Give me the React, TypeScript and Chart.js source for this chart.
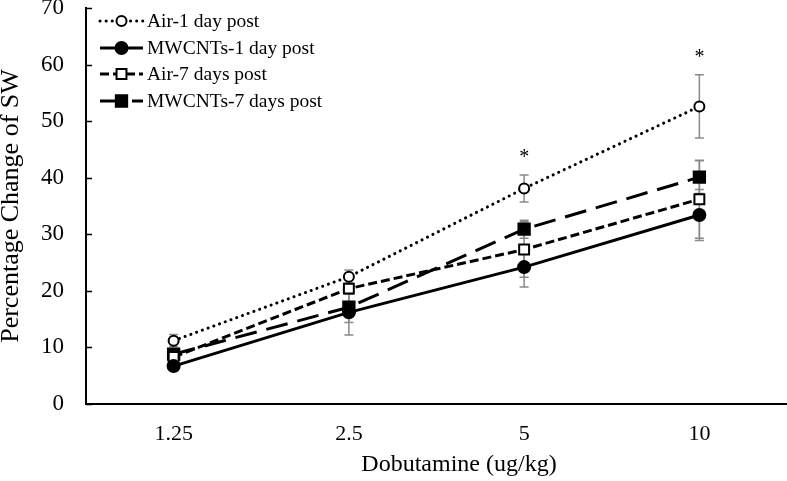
import React, { useEffect, useRef } from "react";
import { Chart, registerables } from "chart.js";

Chart.register(...registerables);

const categories = ["1.25", "2.5", "5", "10"];
const air1Day = [11.2, 22.5, 38.1, 52.6];
const air1DayErr = [1.1, 1.2, 2.4, 5.6];
const mw1Day = [6.7, 16.2, 24.2, 33.4];
const mw1DayErr = [0.8, 4.0, 3.5, 4.5];
const air7Day = [8.3, 20.4, 27.3, 36.2];
const air7DayErr = [0.8, 1.0, 4.9, 6.9];
const mw7Day = [8.8, 17.1, 30.9, 40.1];
const mw7DayErr = [0.8, 2.7, 1.6, 2.9];
const significance = ["", "", "*", "*"];
const yTicks = [0, 10, 20, 30, 40, 50, 60, 70];
const xTitle = "Dobutamine (ug/kg)";
const yTitle = "Percentage Change of SW";

const FONT = '"Liberation Serif", "Times New Roman", serif';

const seriesStyle = [
  { label: "Air-1 day post", data: air1Day, err: air1DayErr, dash: [0.1, 6], cap: "round", point: "circle", r: 5, fill: "#fff" },
  { label: "MWCNTs-1 day post", data: mw1Day, err: mw1DayErr, dash: [], cap: "butt", point: "circle", r: 6, fill: "#000" },
  { label: "Air-7 days post", data: air7Day, err: air7DayErr, dash: [9, 4], cap: "butt", point: "rect", r: 7, fill: "#fff" },
  { label: "MWCNTs-7 days post", data: mw7Day, err: mw7DayErr, dash: [22, 10], cap: "butt", point: "rect", r: 8, fill: "#000" },
];

const errorBarPlugin = {
  id: "errorBars",
  beforeDatasetsDraw(chart: any) {
    const ctx = chart.ctx;
    const x = chart.scales.x;
    const y = chart.scales.y;
    ctx.save();
    ctx.strokeStyle = "#8a8a8a";
    ctx.lineWidth = 1.5;
    seriesStyle.forEach((s) => {
      s.data.forEach((v: number, i: number) => {
        const px = x.getPixelForValue(i);
        const top = y.getPixelForValue(v + s.err[i]);
        const bot = y.getPixelForValue(v - s.err[i]);
        ctx.beginPath();
        ctx.moveTo(px, top);
        ctx.lineTo(px, bot);
        ctx.moveTo(px - 4.5, top);
        ctx.lineTo(px + 4.5, top);
        ctx.moveTo(px - 4.5, bot);
        ctx.lineTo(px + 4.5, bot);
        ctx.stroke();
      });
    });
    ctx.restore();
  },
  afterDraw(chart: any) {
    const ctx = chart.ctx;
    const x = chart.scales.x;
    const y = chart.scales.y;
    ctx.save();
    ctx.strokeStyle = "#000";
    ctx.lineWidth = 1.5;
    yTicks.forEach((t) => {
      const py = Math.round(y.getPixelForValue(t)) + 0.5;
      ctx.beginPath();
      ctx.moveTo(chart.chartArea.left, py);
      ctx.lineTo(chart.chartArea.left + 6, py);
      ctx.stroke();
    });
    // x axis title
    ctx.fillStyle = "#000";
    ctx.font = `24px ${FONT}`;
    ctx.textAlign = "center";
    ctx.textBaseline = "middle";
    ctx.fillText(xTitle, 459, 465);
    // significance stars
    ctx.font = `20px ${FONT}`;
    significance.forEach((s, i) => {
      if (!s) return;
      const px = x.getPixelForValue(i);
      const top = y.getPixelForValue(air1Day[i] + air1DayErr[i]);
      ctx.fillText(s, px, top - 17);
    });
    // legend
    const lx0 = 100;
    const lx1 = 143;
    const rows = [21, 48, 74, 101];
    seriesStyle.forEach((s, i) => {
      const ly = rows[i];
      ctx.save();
      ctx.strokeStyle = "#000";
      ctx.lineWidth = 3;
      ctx.lineCap = s.cap as CanvasLineCap;
      ctx.setLineDash(s.dash);
      ctx.beginPath();
      ctx.moveTo(lx0, ly);
      ctx.lineTo(lx1, ly);
      ctx.stroke();
      ctx.setLineDash([]);
      const mx = (lx0 + lx1) / 2;
      ctx.fillStyle = s.fill;
      ctx.lineWidth = 2;
      ctx.beginPath();
      if (s.point === "circle") {
        ctx.arc(mx, ly, s.r, 0, Math.PI * 2);
      } else {
        const h = s.r * Math.SQRT1_2;
        ctx.rect(mx - h, ly - h, 2 * h, 2 * h);
      }
      ctx.fill();
      ctx.stroke();
      ctx.restore();
      ctx.fillStyle = "#000";
      ctx.font = `19.5px ${FONT}`;
      ctx.textAlign = "left";
      ctx.textBaseline = "middle";
      ctx.fillText(s.label, 147, ly + 1);
    });
    ctx.restore();
  },
};

export default function App() {
  const ref = useRef<HTMLCanvasElement>(null);
  useEffect(() => {
    document.body.style.margin = "0";
    const chart = new Chart(ref.current as HTMLCanvasElement, {
      type: "line",
      data: {
        labels: categories,
        datasets: seriesStyle.map((s) => ({
          label: s.label,
          data: s.data,
          borderColor: "#000",
          borderWidth: 3,
          borderDash: s.dash,
          borderCapStyle: s.cap as any,
          pointStyle: s.point as any,
          pointRadius: s.r,
          pointBackgroundColor: s.fill,
          pointBorderColor: "#000",
          pointBorderWidth: 2,
          tension: 0,
          fill: false,
        })),
      },
      options: {
        responsive: false,
        animation: false,
        layout: { autoPadding: false, padding: { top: 8, right: 0, bottom: 0, left: 0 } },
        plugins: { legend: { display: false }, tooltip: { enabled: false } },
        scales: {
          x: {
            type: "category",
            offset: true,
            grid: { display: true, drawOnChartArea: false, drawTicks: false },
            border: { display: true, color: "#000", width: 2 },
            ticks: { color: "#000", font: { family: FONT, size: 22 }, padding: 17 },
            title: { display: false, text: xTitle },
            afterFit: (scale: any) => {
              scale.height = 77;
              scale.paddingLeft = 0;
              scale.paddingRight = 0;
            },
          },
          y: {
            min: 0,
            max: 70,
            ticks: { stepSize: 10, color: "#000", font: { family: FONT, size: 23 }, padding: 22 },
            grid: { display: true, drawOnChartArea: false, drawTicks: false },
            border: { display: true, color: "#000", width: 2 },
            title: {
              display: true,
              text: yTitle,
              color: "#000",
              font: { family: FONT, size: 26 },
              padding: { top: -4, bottom: 0 },
            },
            afterFit: (scale: any) => {
              scale.width = 86;
              scale.paddingTop = 0;
              scale.paddingBottom = 0;
            },
          },
        },
      },
      plugins: [errorBarPlugin],
    });
    return () => chart.destroy();
  }, []);
  return (
    <div style={{ width: 787, height: 481 }}>
      <canvas ref={ref} width={787} height={481} />
    </div>
  );
}
